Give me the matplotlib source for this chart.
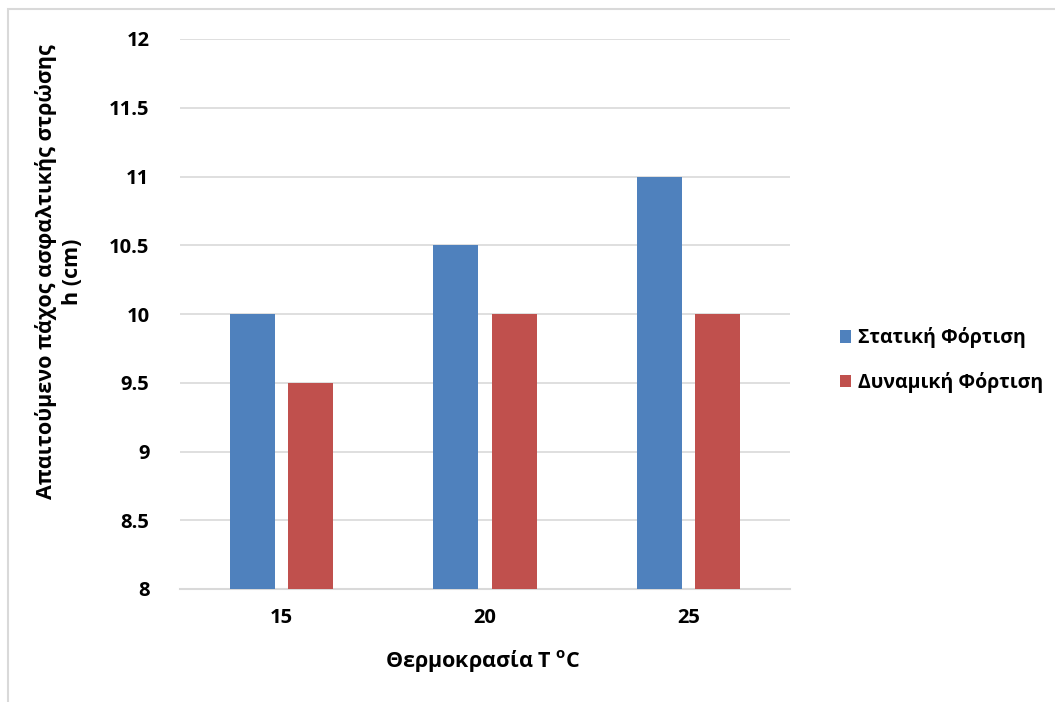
import matplotlib
matplotlib.use("Agg")
import matplotlib.pyplot as plt
import numpy as np
from matplotlib.patches import Rectangle

plt.rcParams['font.family'] = ['Open Sans', 'DejaVu Sans']
plt.rcParams['font.weight'] = 'bold'
plt.rcParams['mathtext.fontset'] = 'custom'
plt.rcParams['mathtext.rm'] = 'Open Sans:bold'
plt.rcParams['mathtext.bf'] = 'Open Sans:bold'

temperatures = ["15", "20", "25"]
static_load = [10.0, 10.5, 11.0]
dynamic_load = [9.5, 10.0, 10.0]
series_names = ["Στατική Φόρτιση", "Δυναμική Φόρτιση"]
y_ticks = [8, 8.5, 9, 9.5, 10, 10.5, 11, 11.5, 12]
y_tick_labels = ["8", "8.5", "9", "9.5", "10", "10.5", "11", "11.5", "12"]

blue = "#4f81bd"
red = "#c0504d"

fig = plt.figure(figsize=(10.55, 7.02), dpi=100)
fig.patches.append(Rectangle((8 / 1055, -0.01), 1.1, 1 - 9 / 702 + 0.01,
                             transform=fig.transFigure, fill=False,
                             edgecolor="#d9d9d9", linewidth=1.5))

ax = fig.add_axes([180 / 1055, 1 - 589 / 702, 610 / 1055, 550 / 702])
x = np.arange(len(temperatures))
w = 0.222
off = 0.143
ax.bar(x - off, np.array(static_load) - 8, width=w, bottom=8, color=blue,
       label=series_names[0], zorder=3)
ax.bar(x + off, np.array(dynamic_load) - 8, width=w, bottom=8, color=red,
       label=series_names[1], zorder=3)

ax.set_xlim(-0.5, 2.5)
ax.set_ylim(8, 12)
ax.set_yticks(y_ticks)
ax.set_yticklabels(y_tick_labels)
ax.set_xticks(x)
ax.set_xticklabels(temperatures)
ax.tick_params(length=0, labelsize=14.5)
ax.tick_params(axis='y', pad=22)
ax.tick_params(axis='x', pad=14)
ax.yaxis.grid(True, color="#d9d9d9", linewidth=1.2, zorder=0)
ax.set_axisbelow(True)
for s in ["top", "right", "left"]:
    ax.spines[s].set_visible(False)
ax.spines["bottom"].set_color("#d9d9d9")
ax.spines["bottom"].set_linewidth(1.5)

fig.text(483 / 1055, 1 - 661 / 702, "Θερμοκρασία T $^{\\mathrm{o}}$C",
         ha="center", va="center", fontsize=15.5, fontweight="bold")
fig.text(59 / 1055, 1 - 272 / 702, "Απαιτούμενο πάχος ασφαλτικής στρώσης\nh (cm)",
         ha="center", va="center", rotation=90, fontsize=15.5,
         fontweight="bold", linespacing=1.3)

fig.legend(loc="center left", bbox_to_anchor=(822 / 1055, 1 - 360 / 702),
           frameon=False, fontsize=14, handlelength=0.6, handleheight=0.6,
           handletextpad=0.35, labelspacing=1.2)

fig.savefig("out.png", dpi=100)
